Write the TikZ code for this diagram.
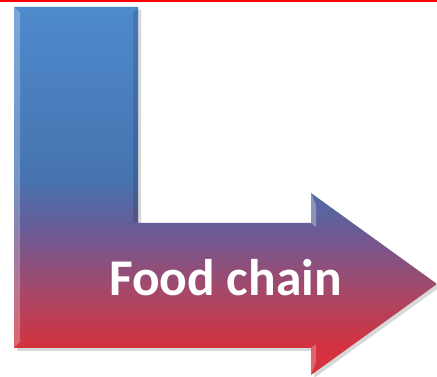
\documentclass[tikz,border=0pt]{standalone}
\usepackage{fontspec}
\newfontfamily\carlito{Carlito}
\usetikzlibrary{shadows}
\pgfdeclareverticalshading{lshade}{100bp}{%
  rgb(0bp)=(0.843,0.196,0.235);
  rgb(25bp)=(0.843,0.196,0.235);
  rgb(28.7bp)=(0.831,0.196,0.243);
  rgb(36.5bp)=(0.647,0.282,0.412);
  rgb(44.7bp)=(0.412,0.353,0.588);
  rgb(51.5bp)=(0.275,0.451,0.686);
  rgb(75bp)=(0.306,0.541,0.804);
  rgb(100bp)=(0.306,0.541,0.804)}
\tikzset{
  lshape/.style={shading=lshade, drop shadow={shadow xshift=3pt,shadow yshift=-3pt,opacity=0.25,fill=black!60}},
  label text/.style={text=white, font=\carlito\bfseries\fontsize{51.5pt}{60pt}\selectfont, inner sep=0pt},
  topline/.style={draw=red, line width=2pt}
}
\begin{document}
\begin{tikzpicture}[x=1pt,y=1pt]
\useasboundingbox (0,0) rectangle (437,377);
\fill[white] (0,0) rectangle (437,377);
\coordinate (tl) at (0,376);
\coordinate (tr) at (437,376);
\draw[topline] (tl) -- (tr);
\shade[lshape] (14,370) -- (138,370) -- (138,154) -- (311,154) -- (311,184) -- (437,93) -- (311,2) -- (311,29) -- (14,29) -- cycle;
% bevel highlights
\fill[white,opacity=0.25] (14,370) -- (20,364) -- (20,35) -- (14,29) -- cycle;
\fill[black,opacity=0.12] (138,370) -- (133,364) -- (133,154) -- (138,154) -- cycle;
\fill[white,opacity=0.3] (311,184) -- (316,172) -- (316,150) -- (311,154) -- cycle;
\fill[white,opacity=0.25] (311,29) -- (316,33) -- (316,15) -- (311,2) -- cycle;
\node[label text, anchor=base] (t) at (225.5,81) {Food chain};
\end{tikzpicture}
\end{document}
